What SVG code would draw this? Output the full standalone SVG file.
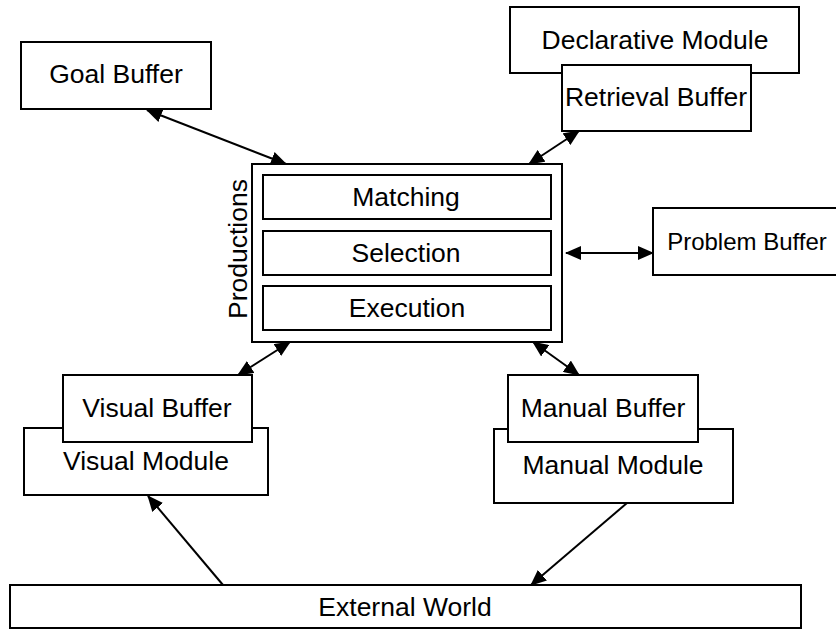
<svg xmlns="http://www.w3.org/2000/svg" width="836" height="630" viewBox="0 0 836 630">
<style>
  .box { fill: #ffffff; stroke: #000000; stroke-width: 2; }
  .lbl { font-family: "Liberation Sans", Arial, Helvetica, sans-serif; font-size: 26.5px; fill: #000000; text-anchor: middle; }
  .sm { font-size: 24px; }
  .conn { fill: none; stroke: #000000; stroke-width: 2; }
</style>
<defs>
  <marker id="ah" viewBox="0 0 16 14" refX="15" refY="7" markerWidth="16" markerHeight="14" markerUnits="userSpaceOnUse" orient="auto-start-reverse">
    <path d="M0,0 L16,7 L0,14 Z" fill="#000000"/>
  </marker>
</defs>
<rect width="836" height="630" fill="#ffffff"/>

<g id="goal-buffer">
  <rect class="box" x="21" y="42" width="190" height="67"/>
  <text class="lbl" x="116" y="83">Goal Buffer</text>
</g>

<g id="declarative-module">
  <rect class="box" x="510" y="7" width="289" height="66"/>
  <text class="lbl" x="655" y="49">Declarative Module</text>
</g>

<g id="retrieval-buffer">
  <rect class="box" x="562" y="65" width="189" height="66"/>
  <text class="lbl" x="656" y="106">Retrieval Buffer</text>
</g>

<g id="problem-buffer">
  <rect class="box" x="653" y="208" width="190" height="67"/>
  <text class="lbl sm" x="747" y="250">Problem Buffer</text>
</g>

<g id="productions">
  <rect class="box" x="252" y="164" width="310" height="178"/>
  <text class="lbl" transform="translate(247,249) rotate(-90)">Productions</text>
  <g id="matching">
    <rect class="box" x="263" y="175" width="288" height="44"/>
    <text class="lbl" x="406" y="206">Matching</text>
  </g>
  <g id="selection">
    <rect class="box" x="263" y="231" width="288" height="44"/>
    <text class="lbl" x="406" y="262">Selection</text>
  </g>
  <g id="execution">
    <rect class="box" x="263" y="286" width="288" height="44"/>
    <text class="lbl" x="407" y="317">Execution</text>
  </g>
</g>

<g id="visual-module">
  <rect class="box" x="24" y="428" width="244" height="67"/>
  <text class="lbl" x="146" y="470">Visual Module</text>
</g>

<g id="visual-buffer">
  <rect class="box" x="63" y="375" width="189" height="67"/>
  <text class="lbl" x="157" y="417">Visual Buffer</text>
</g>

<g id="manual-module">
  <rect class="box" x="494" y="429" width="239" height="74"/>
  <text class="lbl" x="613" y="474">Manual Module</text>
</g>

<g id="manual-buffer">
  <rect class="box" x="508" y="375" width="190" height="67"/>
  <text class="lbl" x="603" y="417">Manual Buffer</text>
</g>

<g id="external-world">
  <rect class="box" x="10" y="585" width="791" height="43"/>
  <text class="lbl" x="405" y="616">External World</text>
</g>

<g id="connectors">
  <path class="conn" d="M147,110 L286,164" marker-start="url(#ah)" marker-end="url(#ah)"/>
  <path class="conn" d="M579,131 L529,164" marker-start="url(#ah)" marker-end="url(#ah)"/>
  <path class="conn" d="M566,253 L653,253" marker-start="url(#ah)" marker-end="url(#ah)"/>
  <path class="conn" d="M238,375 L290,342" marker-start="url(#ah)" marker-end="url(#ah)"/>
  <path class="conn" d="M533,342 L579,375" marker-start="url(#ah)" marker-end="url(#ah)"/>
  <path class="conn" d="M223,585 L148,496" marker-end="url(#ah)"/>
  <path class="conn" d="M627,503 L531,585" marker-end="url(#ah)"/>
</g>
</svg>
